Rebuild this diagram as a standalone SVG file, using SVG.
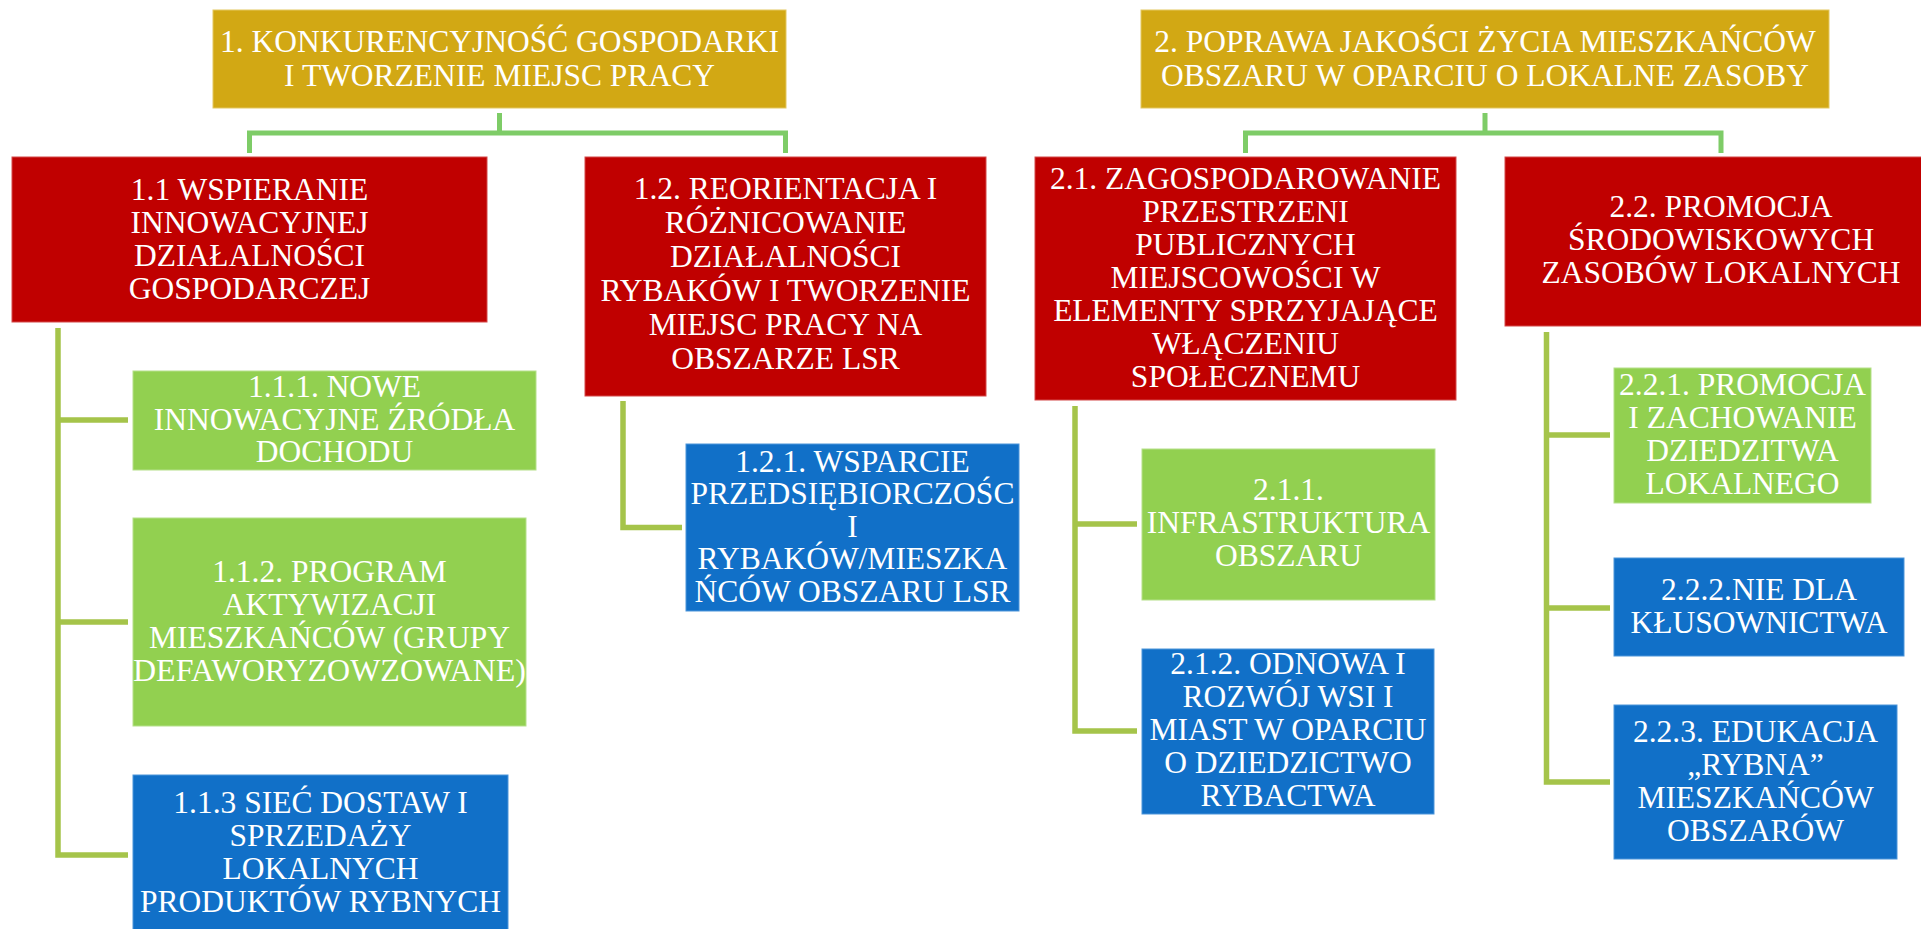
<svg xmlns="http://www.w3.org/2000/svg" width="1921" height="929" viewBox="0 0 1921 929">
<style>
.gold{fill:#D2A814;stroke:#E3C760;stroke-width:1}
.red{fill:#C00000;stroke:#D44848;stroke-width:1}
.green{fill:#92D050;stroke:#B5E08A;stroke-width:1}
.blue{fill:#1170C8;stroke:#4C95DA;stroke-width:1}
text{font-family:"Liberation Serif","Times New Roman",serif;font-size:31.5px;fill:#FFFFFF;text-anchor:middle}
.top{fill:none;stroke:#7ECC67;stroke-width:5;stroke-linejoin:miter;stroke-linecap:butt}
.side{fill:none;stroke:#A5C44A;stroke-width:5.5;stroke-linejoin:miter;stroke-linecap:butt}
</style>
<rect width="1921" height="929" fill="#FFFFFF"/>
<g id="connectors">
<path class="top" d="M499.5,113 V133 M249.5,153 V133 H785.5 V153"/>
<path class="top" d="M1485,113 V133 M1245.5,153 V133 H1721 V153"/>
<path class="side" d="M58,328 V855 H128 M58,420 H128 M58,622 H128"/>
<path class="side" d="M623,401 V527.5 H682"/>
<path class="side" d="M1075,406 V731 H1137 M1075,524 H1137"/>
<path class="side" d="M1546.5,332 V782 H1610 M1546.5,435 H1610 M1546.5,608 H1610"/>
</g>
<g id="n1">
<rect class="gold" x="213" y="10" width="573" height="98"/>
<text x="499.5" y="52">1. KONKURENCYJNOŚĆ GOSPODARKI</text>
<text x="499.5" y="86">I TWORZENIE MIEJSC PRACY</text>
</g>
<g id="n2">
<rect class="gold" x="1141" y="10" width="688" height="98"/>
<text x="1485" y="52">2. POPRAWA JAKOŚCI ŻYCIA MIESZKAŃCÓW</text>
<text x="1485" y="86">OBSZARU W OPARCIU O LOKALNE ZASOBY</text>
</g>
<g id="n1_1">
<rect class="red" x="12" y="157" width="475" height="165"/>
<text x="249.5" y="200">1.1 WSPIERANIE</text>
<text x="249.5" y="233">INNOWACYJNEJ</text>
<text x="249.5" y="266">DZIAŁALNOŚCI</text>
<text x="249.5" y="299">GOSPODARCZEJ</text>
</g>
<g id="n1_2">
<rect class="red" x="585" y="157" width="401" height="239"/>
<text x="785.5" y="199">1.2. REORIENTACJA I</text>
<text x="785.5" y="233">RÓŻNICOWANIE</text>
<text x="785.5" y="267">DZIAŁALNOŚCI</text>
<text x="785.5" y="301">RYBAKÓW I TWORZENIE</text>
<text x="785.5" y="335">MIEJSC PRACY NA</text>
<text x="785.5" y="369">OBSZARZE LSR</text>
</g>
<g id="n2_1">
<rect class="red" x="1035" y="157" width="421" height="243"/>
<text x="1245.5" y="188.5">2.1. ZAGOSPODAROWANIE</text>
<text x="1245.5" y="221.5">PRZESTRZENI</text>
<text x="1245.5" y="254.5">PUBLICZNYCH</text>
<text x="1245.5" y="287.5">MIEJSCOWOŚCI W</text>
<text x="1245.5" y="320.5">ELEMENTY SPRZYJAJĄCE</text>
<text x="1245.5" y="353.5">WŁĄCZENIU</text>
<text x="1245.5" y="386.5">SPOŁECZNEMU</text>
</g>
<g id="n2_2">
<rect class="red" x="1505" y="157" width="432" height="169"/>
<text x="1721" y="217">2.2. PROMOCJA</text>
<text x="1721" y="250">ŚRODOWISKOWYCH</text>
<text x="1721" y="283">ZASOBÓW LOKALNYCH</text>
</g>
<g id="n1_1_1">
<rect class="green" x="133" y="371" width="403" height="99"/>
<text x="334.5" y="396.5">1.1.1. NOWE</text>
<text x="334.5" y="429.5">INNOWACYJNE ŹRÓDŁA</text>
<text x="334.5" y="462">DOCHODU</text>
</g>
<g id="n1_1_2">
<rect class="green" x="133" y="518" width="393" height="208"/>
<text x="329.5" y="582">1.1.2. PROGRAM</text>
<text x="329.5" y="615">AKTYWIZACJI</text>
<text x="329.5" y="648">MIESZKAŃCÓW (GRUPY</text>
<text x="329.5" y="681" textLength="393" lengthAdjust="spacingAndGlyphs">DEFAWORYZOWZOWANE)</text>
</g>
<g id="n1_1_3">
<rect class="blue" x="133" y="775" width="375" height="160"/>
<text x="320.5" y="813">1.1.3 SIEĆ DOSTAW I</text>
<text x="320.5" y="846">SPRZEDAŻY</text>
<text x="320.5" y="879">LOKALNYCH</text>
<text x="320.5" y="912">PRODUKTÓW RYBNYCH</text>
</g>
<g id="n1_2_1">
<rect class="blue" x="686" y="444" width="333" height="167"/>
<text x="852.5" y="471.5">1.2.1. WSPARCIE</text>
<text x="852.5" y="504">PRZEDSIĘBIORCZOŚC</text>
<text x="852.5" y="536.5">I</text>
<text x="852.5" y="569">RYBAKÓW/MIESZKA</text>
<text x="852.5" y="601.5">ŃCÓW OBSZARU LSR</text>
</g>
<g id="n2_1_1">
<rect class="green" x="1142" y="449" width="293" height="151"/>
<text x="1288.5" y="500">2.1.1.</text>
<text x="1288.5" y="533">INFRASTRUKTURA</text>
<text x="1288.5" y="566">OBSZARU</text>
</g>
<g id="n2_1_2">
<rect class="blue" x="1142" y="649" width="292" height="165"/>
<text x="1288" y="674">2.1.2. ODNOWA I</text>
<text x="1288" y="707">ROZWÓJ WSI I</text>
<text x="1288" y="740">MIAST W OPARCIU</text>
<text x="1288" y="773">O DZIEDZICTWO</text>
<text x="1288" y="806">RYBACTWA</text>
</g>
<g id="n2_2_1">
<rect class="green" x="1614" y="368" width="257" height="135"/>
<text x="1742.5" y="394.5">2.2.1. PROMOCJA</text>
<text x="1742.5" y="427.5">I ZACHOWANIE</text>
<text x="1742.5" y="460.5">DZIEDZITWA</text>
<text x="1742.5" y="493.5">LOKALNEGO</text>
</g>
<g id="n2_2_2">
<rect class="blue" x="1614" y="558" width="290" height="98"/>
<text x="1759" y="600">2.2.2.NIE DLA</text>
<text x="1759" y="633">KŁUSOWNICTWA</text>
</g>
<g id="n2_2_3">
<rect class="blue" x="1614" y="705" width="283" height="154"/>
<text x="1755.5" y="741.5">2.2.3. EDUKACJA</text>
<text x="1755.5" y="774.5">„RYBNA”</text>
<text x="1755.5" y="807.5">MIESZKAŃCÓW</text>
<text x="1755.5" y="840.5">OBSZARÓW</text>
</g>
</svg>
